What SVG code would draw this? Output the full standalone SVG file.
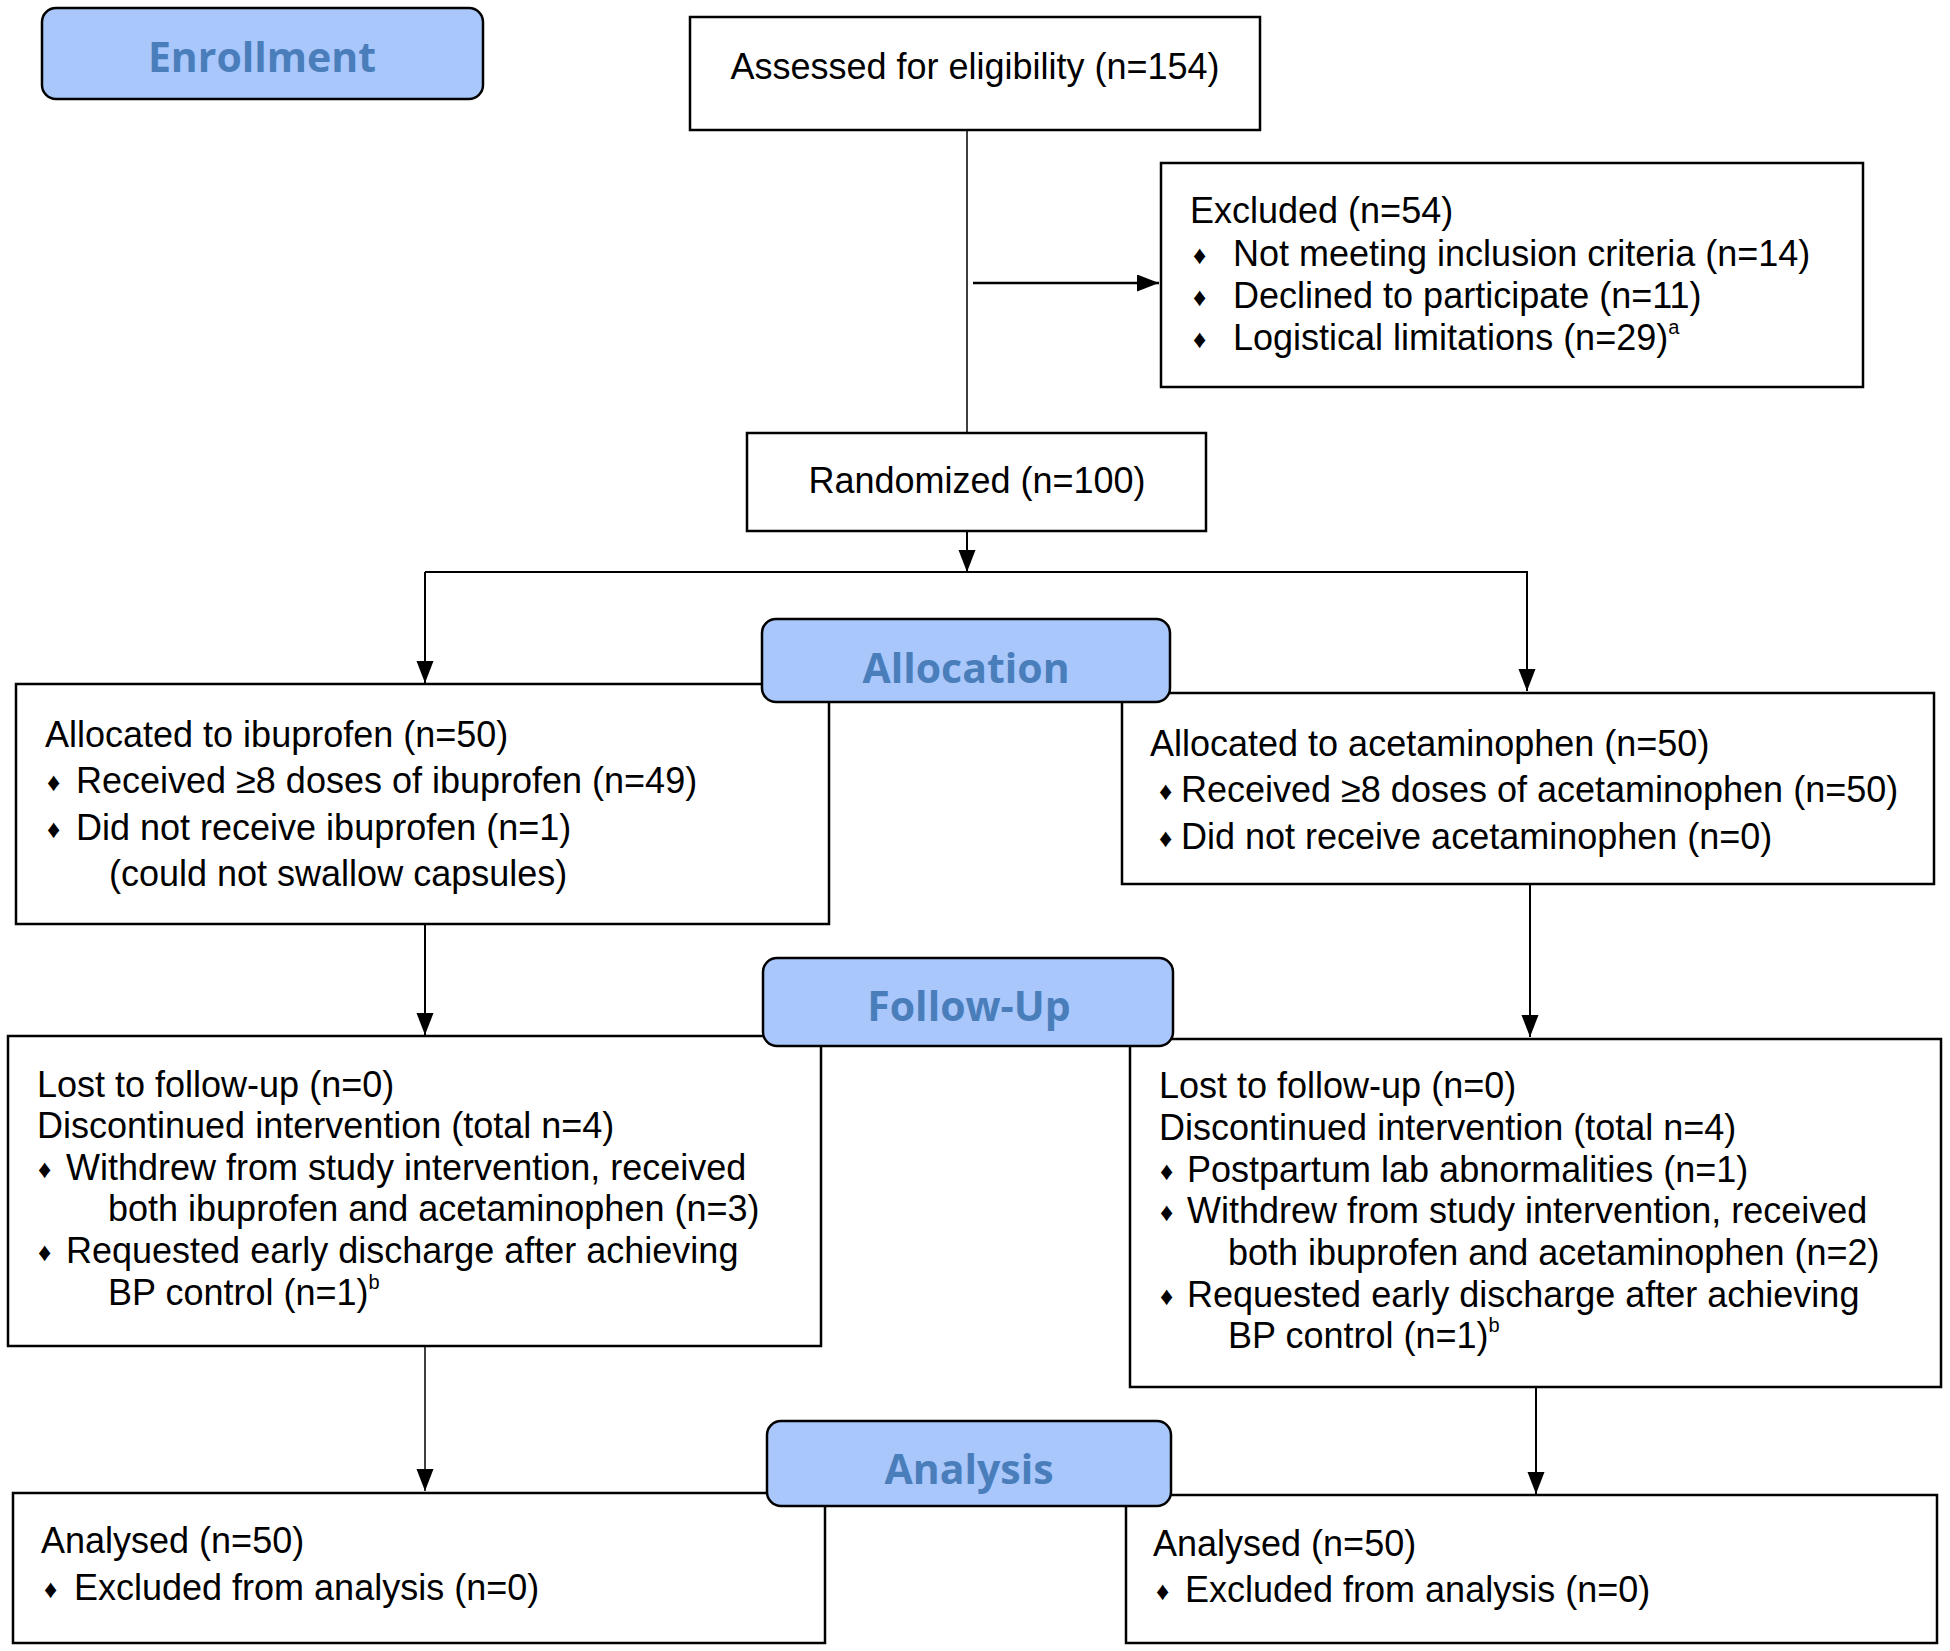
<svg xmlns="http://www.w3.org/2000/svg" width="1950" height="1651" viewBox="0 0 1950 1651">
<style>
.box{fill:#fff;stroke:#000;stroke-width:2.5}
.lab{fill:#a9c7fb;stroke:#000;stroke-width:2.5}
.lt{font-family:"Open Sans","Noto Sans",sans-serif;font-weight:700;font-size:41px;fill:#4a7ebb;text-anchor:middle}
.t{font-family:"Liberation Sans",Arial,sans-serif;font-size:36px;fill:#000}
.b{font-family:"Liberation Sans",Arial,sans-serif;font-size:26px;fill:#000}
.sup{font-size:20px}
.c{fill:none;stroke:#000;stroke-width:2}
</style>
<defs>
<marker id="ah" markerUnits="userSpaceOnUse" markerWidth="24" markerHeight="18" refX="22" refY="8.5" orient="auto">
<path d="M0,0 L22,8.5 L0,17 z" fill="#000"/>
</marker>
</defs>

<g id="assessed">
<rect class="box" x="690" y="17" width="570" height="113"/>
<text class="t" x="975" y="79" text-anchor="middle">Assessed for eligibility (n=154)</text>
</g>

<g id="excluded">
<rect class="box" x="1161" y="163" width="702" height="224"/>
<text class="t" x="1190" y="223">Excluded (n=54)</text>
<text class="b" x="1193" y="264">♦</text>
<text class="t" x="1233" y="266">Not meeting inclusion criteria (n=14)</text>
<text class="b" x="1193" y="306">♦</text>
<text class="t" x="1233" y="308">Declined to participate (n=11)</text>
<text class="b" x="1193" y="348">♦</text>
<text class="t" x="1233" y="350">Logistical limitations (n=29)<tspan class="sup" dy="-16">a</tspan></text>
</g>

<g id="randomized">
<rect class="box" x="747" y="433" width="459" height="98"/>
<text class="t" x="977" y="493" text-anchor="middle">Randomized (n=100)</text>
</g>

<g id="alloc-ibuprofen">
<rect class="box" x="16" y="684" width="813" height="240"/>
<text class="t" x="45" y="747">Allocated to ibuprofen (n=50)</text>
<text class="b" x="47" y="791">♦</text>
<text class="t" x="76" y="793">Received ≥8 doses of ibuprofen (n=49)</text>
<text class="b" x="47" y="838">♦</text>
<text class="t" x="76" y="840">Did not receive ibuprofen (n=1)</text>
<text class="t" x="109" y="886">(could not swallow capsules)</text>
</g>

<g id="alloc-acetaminophen">
<rect class="box" x="1122" y="693" width="812" height="191"/>
<text class="t" x="1150" y="756">Allocated to acetaminophen (n=50)</text>
<text class="b" x="1159" y="800">♦</text>
<text class="t" x="1181" y="802">Received ≥8 doses of acetaminophen (n=50)</text>
<text class="b" x="1159" y="847">♦</text>
<text class="t" x="1181" y="849">Did not receive acetaminophen (n=0)</text>
</g>

<g id="followup-ibuprofen">
<rect class="box" x="8" y="1036" width="813" height="310"/>
<text class="t" x="37" y="1097">Lost to follow-up (n=0)</text>
<text class="t" x="37" y="1138">Discontinued intervention (total n=4)</text>
<text class="b" x="38" y="1178">♦</text>
<text class="t" x="66" y="1180">Withdrew from study intervention, received</text>
<text class="t" x="108" y="1221">both ibuprofen and acetaminophen (n=3)</text>
<text class="b" x="38" y="1261">♦</text>
<text class="t" x="66" y="1263">Requested early discharge after achieving</text>
<text class="t" x="108" y="1305">BP control (n=1)<tspan class="sup" dy="-16">b</tspan></text>
</g>

<g id="followup-acetaminophen">
<rect class="box" x="1130" y="1039" width="811" height="348"/>
<text class="t" x="1159" y="1098">Lost to follow-up (n=0)</text>
<text class="t" x="1159" y="1140">Discontinued intervention (total n=4)</text>
<text class="b" x="1160" y="1180">♦</text>
<text class="t" x="1187" y="1182">Postpartum lab abnormalities (n=1)</text>
<text class="b" x="1160" y="1221">♦</text>
<text class="t" x="1187" y="1223">Withdrew from study intervention, received</text>
<text class="t" x="1228" y="1265">both ibuprofen and acetaminophen (n=2)</text>
<text class="b" x="1160" y="1305">♦</text>
<text class="t" x="1187" y="1307">Requested early discharge after achieving</text>
<text class="t" x="1228" y="1348">BP control (n=1)<tspan class="sup" dy="-16">b</tspan></text>
</g>

<g id="analysis-ibuprofen">
<rect class="box" x="13" y="1493" width="812" height="150"/>
<text class="t" x="41" y="1553">Analysed (n=50)</text>
<text class="b" x="44" y="1598">♦</text>
<text class="t" x="74" y="1600">Excluded from analysis (n=0)</text>
</g>

<g id="analysis-acetaminophen">
<rect class="box" x="1126" y="1495" width="811" height="148"/>
<text class="t" x="1153" y="1556">Analysed (n=50)</text>
<text class="b" x="1156" y="1600">♦</text>
<text class="t" x="1185" y="1602">Excluded from analysis (n=0)</text>
</g>

<g id="connectors">
<path class="c" d="M967,131 V433" style="stroke-width:1.5"/>
<path class="c" d="M973,283 H1159" marker-end="url(#ah)" style="stroke-width:2.5"/>
<path class="c" d="M967,531 V572" marker-end="url(#ah)"/>
<path class="c" d="M425,572 H1527 V691" marker-end="url(#ah)"/>
<path class="c" d="M425,572 V683" marker-end="url(#ah)"/>
<path class="c" d="M425,924 V1035" marker-end="url(#ah)"/>
<path class="c" d="M1530,884 V1037" marker-end="url(#ah)"/>
<path class="c" d="M425,1346 V1491" marker-end="url(#ah)" style="stroke-width:1.5"/>
<path class="c" d="M1536,1387 V1494" marker-end="url(#ah)"/>
</g>

<g id="label-enrollment">
<rect class="lab" x="42" y="8" width="441" height="91" rx="14"/>
<text class="lt" x="262" y="72">Enrollment</text>
</g>
<g id="label-allocation">
<rect class="lab" x="762" y="619" width="408" height="83" rx="14"/>
<text class="lt" x="966" y="683">Allocation</text>
</g>
<g id="label-followup">
<rect class="lab" x="763" y="958" width="410" height="88" rx="14"/>
<text class="lt" x="969" y="1021">Follow-Up</text>
</g>
<g id="label-analysis">
<rect class="lab" x="767" y="1421" width="404" height="85" rx="14"/>
<text class="lt" x="969" y="1484">Analysis</text>
</g>
</svg>
